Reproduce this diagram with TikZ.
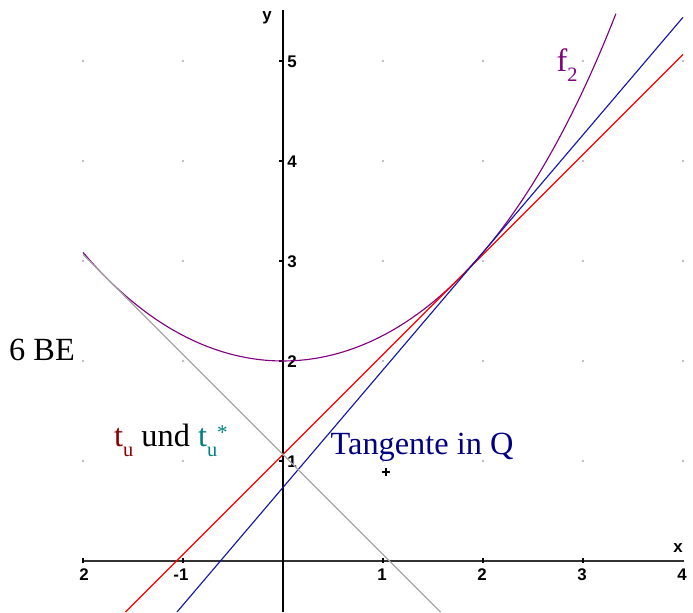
\documentclass[tikz,border=0pt]{standalone}
\usepackage{fontspec}
\setmainfont{Liberation Serif}
\newfontfamily\tickfont{Liberation Sans}
\usetikzlibrary{positioning}
\definecolor{fpurple}{RGB}{128, 0, 128}
\definecolor{tured}{RGB}{139, 0, 0}
\definecolor{tuteal}{RGB}{0, 128, 128}
\definecolor{qnavy}{RGB}{0, 0, 128}
\definecolor{qblue}{RGB}{20, 20, 170}
\newcommand{\lowsub}[1]{\raisebox{-2.9pt}{\fontsize{5.8}{6}\selectfont #1}}
\newcommand{\highstar}{\raisebox{1.8pt}{\fontsize{6}{7}\selectfont *}}

\begin{document}
\begin{tikzpicture}[x=1cm, y=1cm,
    ticklbl/.style={font=\tickfont\bfseries\fontsize{4.8}{5}\selectfont, inner sep=0pt},
    graph/.style={line width=0.32pt, draw=#1},
    lbl/.style={font=\fontsize{9.2}{11}\selectfont, text=#1, inner sep=0pt}
]
\useasboundingbox (-2.83,-0.51) rectangle (4.10,5.61);

% Grid dots
\foreach \x in {-2,-1,1,2,3,4}
  \foreach \y in {1,...,5}
    \fill[gray] (\x,\y) circle (0.25pt);

% Axes
\draw[line width=0.45pt, black!80] (-2,0) -- (4.01,0);
\draw[line width=0.45pt] (0,-0.51) -- (0,5.51);
\foreach \x in {-2,-1,1,2,3}
  \draw[line width=0.35pt] (\x,-0.02) -- (\x,0.03);
\foreach \y in {1,...,5}
  \draw[line width=0.35pt] (-0.04,\y) -- (0,\y);

% Tick labels
\node[ticklbl] (xm2) at (-1.99,-0.14) {2};
\node[ticklbl] (xm1) at (-1.02,-0.14) {-1};
\foreach \x in {1,2,3,4}
  \node[ticklbl] (x\x) at (\x-0.01,-0.14) {\x};
\foreach \y in {1,...,5}
  \node[ticklbl] (y\y) at (0.09,\y-0.01) {\y};
\node[ticklbl] (xlab) at (3.95,0.13) {x};
\node[ticklbl] (ylab) at (-0.16,5.43) {y};

% Curve f2
\draw[graph=fpurple, domain=-2:3.33, samples=120, smooth]
  plot (\x, {exp(\x/2)+exp(-\x/2)});

% Tangents
\coordinate (ra) at (-1.575,-0.51);
\coordinate (rb) at (4,5.065);
\coordinate (ba) at (-1.06,-0.51);
\coordinate (bb) at (4,5.437);
\coordinate (ga) at (-2,3.065);
\coordinate (gb) at (1.575,-0.51);
\draw[graph=red] (ra) -- (rb);
\draw[graph=qblue] (ba) -- (bb);
\draw[graph=gray!70] (ga) -- (gb);

% Marker
\coordinate (mk) at (1.03,0.89);
\draw[line width=0.3pt] ([xshift=-1.2pt]mk) -- ([xshift=1.2pt]mk);
\draw[line width=0.3pt] ([yshift=-1.2pt]mk) -- ([yshift=1.2pt]mk);

% Labels
\node[lbl=black] (be) at (-2.41,2.11) {6 BE};
\node[lbl=black] (tu) at (-1.12,1.21)
  {\textcolor{tured}{t\lowsub{u}} und \textcolor{tuteal}{t\lowsub{u}\highstar}};
\node[lbl=qnavy] (tq) at (1.39,1.14) {Tangente in Q};
\node[lbl=fpurple] (f2) at (2.84,4.96) {f\lowsub{2}};

\end{tikzpicture}
\end{document}
